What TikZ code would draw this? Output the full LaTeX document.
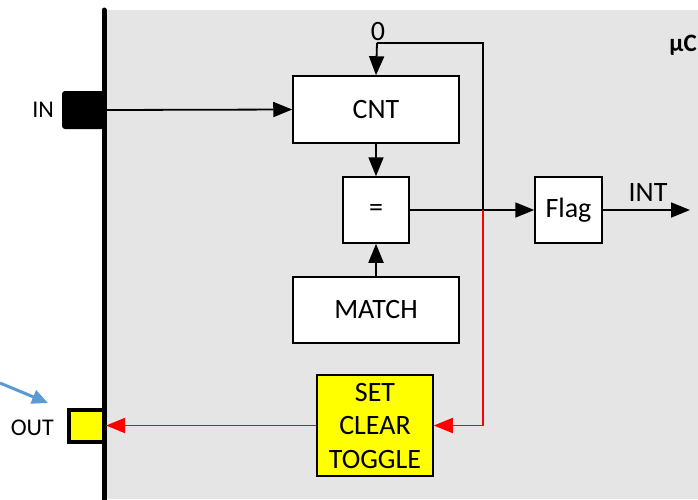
\documentclass[tikz,border=0pt]{standalone}
\usepackage{fontspec}
\setmainfont{Carlito}
\usetikzlibrary{arrows.meta}
\definecolor{bggray}{HTML}{E5E5E5}
\definecolor{myblue}{HTML}{5B9BD5}
\definecolor{myred}{HTML}{FF0000}
\definecolor{myyellow}{HTML}{FFFF00}
\begin{document}
\begin{tikzpicture}[x=1pt,y=-1pt,
  box/.style={draw=black,fill=white,line width=1.5pt,inner sep=0pt,
    font=\fontsize{28}{33.5}\selectfont},
  arr/.style={line width=1.8pt,-{Triangle[length=19pt,width=15pt]}},
  redarr/.style={draw=myred,line width=1.8pt,-{Triangle[length=19pt,width=15pt]}},
  lbl/.style={inner sep=0pt,font=\fontsize{24}{28}\selectfont}]
\useasboundingbox (0,0) rectangle (698,499);
% background area
\fill[bggray] (104,10) rectangle (698,499);
% pads
\node[fill=black,rounded corners=3pt,minimum width=42pt,minimum height=38pt,inner sep=0pt] (inpad) at (83,110) {};
\node[draw=black,fill=myyellow,line width=4pt,minimum width=35pt,minimum height=32pt,inner sep=0pt] (outpad) at (86.5,425.5) {};
% vertical bar
\draw[line width=5pt,line cap=round] (104,10) -- (104,510);
% labels
\node[lbl,anchor=east] (inlbl) at (54,110) {IN};
\node[lbl,anchor=east] (outlbl) at (54,428) {OUT};
\node[inner sep=0pt,anchor=east,font=\fontsize{25}{30}\selectfont\bfseries] (uc) at (697,45) {µC};
% boxes
\node[box,minimum width=166pt,minimum height=67pt] (cnt) at (376,109.5) {CNT};
\node[box,minimum width=66pt,minimum height=66pt] (eq) at (376,210) {=};
\node[box,minimum width=166pt,minimum height=66pt] (match) at (376,310) {MATCH};
\node[box,minimum width=67pt,minimum height=66pt] (flag) at (568.5,210) {Flag};
\node[box,fill=myyellow,minimum width=116pt,minimum height=101pt,align=center] (set) at (375,425.5) {SET\\CLEAR\\TOGGLE};
\node[box,draw=none,fill=none] (zero) at (378,32) {0};
\node[box,draw=none,fill=none] (int) at (648,193) {INT};
% coordinates
\coordinate (top) at (377,43);
\coordinate (j) at (483,210);
\coordinate (intend) at (690,210);
\coordinate (bs) at (0,383);
\coordinate (be) at (48,403);
% connectors
\draw[arr] (inpad.east) -- (cnt.west);
\draw[arr] (top) -- (cnt.north);
\draw[line width=1.8pt] (top) -| (j);
\draw[arr] (cnt.south) -- (eq.north);
\draw[arr] (match.north) -- (eq.south);
\draw[arr] (eq.east) -- (flag.west);
\draw[arr] (flag.east) -- (intend);
\draw[redarr] (j) |- (set.east);
\draw[redarr] (set.west) -- (outpad.east);
\draw[myblue,line width=3pt,-{Triangle[length=16pt,width=14pt]}] (bs) -- (be);
\end{tikzpicture}
\end{document}
